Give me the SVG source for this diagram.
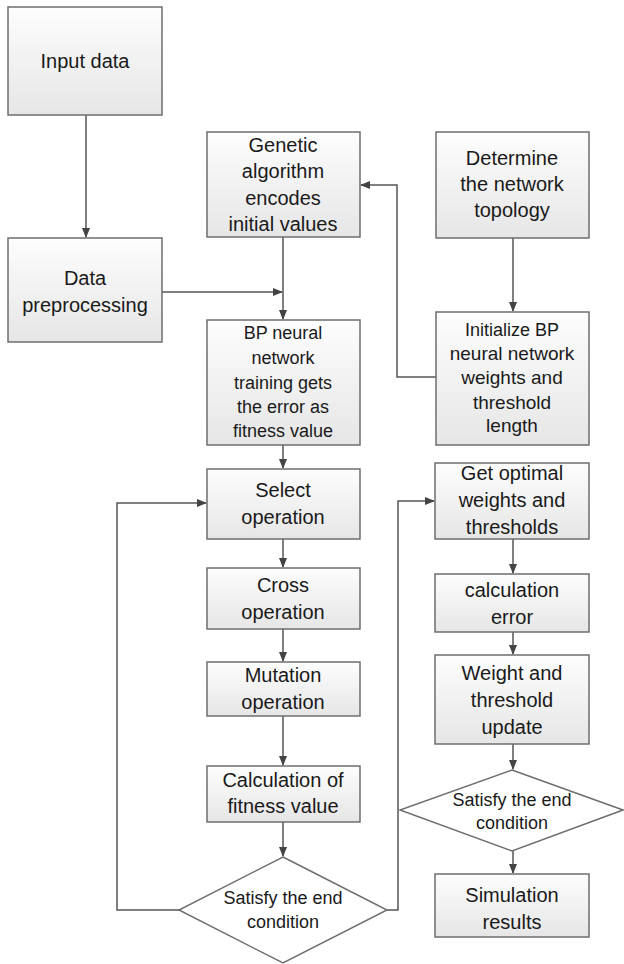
<svg xmlns="http://www.w3.org/2000/svg" width="624" height="964" viewBox="0 0 624 964">
<style>
.box{fill:url(#g);stroke:#6e6e6e;stroke-width:1.5}
.dia{fill:#ffffff;stroke:#6e6e6e;stroke-width:1.5}
.t{font-family:"Liberation Sans",Arial,sans-serif;fill:#1a1a1a;text-anchor:middle;dominant-baseline:central}
.f20{font-size:20px}.f19{font-size:19px}.f18{font-size:18px}
.c{fill:none;stroke:#555;stroke-width:1.5}
</style>
<defs>
<linearGradient id="g" x1="0" y1="0" x2="0" y2="1">
<stop offset="0" stop-color="#fdfdfd"/>
<stop offset="1" stop-color="#e6e6e6"/>
</linearGradient>
<marker id="a" markerWidth="10" markerHeight="8" refX="9" refY="4" orient="auto" markerUnits="userSpaceOnUse">
<path d="M0,0 L10,4 L0,8 z" fill="#444"/>
</marker>
</defs>
<g id="connectors">
<path class="c" d="M86,115 V237" marker-end="url(#a)"/>
<path class="c" d="M162,292 H282" marker-end="url(#a)"/>
<path class="c" d="M283,237 V319" marker-end="url(#a)"/>
<path class="c" d="M513,238 V311" marker-end="url(#a)"/>
<path class="c" d="M436,377 H397 V185 H361" marker-end="url(#a)"/>
<path class="c" d="M283,445 V468" marker-end="url(#a)"/>
<path class="c" d="M283,539 V567" marker-end="url(#a)"/>
<path class="c" d="M283,629 V661" marker-end="url(#a)"/>
<path class="c" d="M283,716 V765" marker-end="url(#a)"/>
<path class="c" d="M283,822 V856" marker-end="url(#a)"/>
<path class="c" d="M179,910 H117 V503 H206" marker-end="url(#a)"/>
<path class="c" d="M387,910 H398 V501 H434" marker-end="url(#a)"/>
<path class="c" d="M513,539 V573" marker-end="url(#a)"/>
<path class="c" d="M513,632 V654" marker-end="url(#a)"/>
<path class="c" d="M513,744 V769" marker-end="url(#a)"/>
<path class="c" d="M513,851 V873" marker-end="url(#a)"/>
</g>
<g id="input">
<rect class="box" x="8" y="7" width="154" height="108"/>
<text class="t f20" x="85" y="61">Input data</text>
</g>
<g id="preprocess">
<rect class="box" x="8" y="238" width="154" height="104"/>
<text class="t f20" x="85" y="278">Data</text>
<text class="t f20" x="85" y="305">preprocessing</text>
</g>
<g id="genetic">
<rect class="box" x="207" y="132" width="153" height="105"/>
<text class="t f20" x="283" y="145">Genetic</text>
<text class="t f20" x="283" y="171">algorithm</text>
<text class="t f20" x="283" y="198">encodes</text>
<text class="t f20" x="283" y="224">initial values</text>
</g>
<g id="determine">
<rect class="box" x="436" y="132" width="153" height="106"/>
<text class="t f20" x="512" y="158">Determine</text>
<text class="t f20" x="512" y="184">the network</text>
<text class="t f20" x="512" y="210">topology</text>
</g>
<g id="bp">
<rect class="box" x="207" y="320" width="153" height="125"/>
<text class="t f18" x="283" y="333">BP neural</text>
<text class="t f18" x="283" y="358">network</text>
<text class="t f18" x="283" y="383">training gets</text>
<text class="t f18" x="283" y="407">the error as</text>
<text class="t f18" x="283" y="431">fitness value</text>
</g>
<g id="initialize">
<rect class="box" x="436" y="312" width="153" height="133"/>
<text class="t f18" x="512" y="330">Initialize BP</text>
<text class="t f19" x="512" y="353">neural network</text>
<text class="t f19" x="512" y="377">weights and</text>
<text class="t f19" x="512" y="402">threshold</text>
<text class="t f19" x="512" y="425">length</text>
</g>
<g id="select">
<rect class="box" x="207" y="469" width="153" height="70"/>
<text class="t f20" x="283" y="490">Select</text>
<text class="t f20" x="283" y="517">operation</text>
</g>
<g id="cross">
<rect class="box" x="207" y="568" width="153" height="61"/>
<text class="t f20" x="283" y="585">Cross</text>
<text class="t f20" x="283" y="612">operation</text>
</g>
<g id="mutation">
<rect class="box" x="207" y="662" width="153" height="54"/>
<text class="t f20" x="283" y="675">Mutation</text>
<text class="t f20" x="283" y="702">operation</text>
</g>
<g id="fitness">
<rect class="box" x="207" y="766" width="153" height="56"/>
<text class="t f20" x="283" y="780">Calculation of</text>
<text class="t f20" x="283" y="806">fitness value</text>
</g>
<g id="end1">
<polygon class="dia" points="283,857 387,910 283,963 179,910"/>
<text class="t f18" x="283" y="898">Satisfy the end</text>
<text class="t f18" x="283" y="922">condition</text>
</g>
<g id="optimal">
<rect class="box" x="435" y="463" width="154" height="76"/>
<text class="t f20" x="512" y="473">Get optimal</text>
<text class="t f20" x="512" y="500">weights and</text>
<text class="t f20" x="512" y="527">thresholds</text>
</g>
<g id="calcerr">
<rect class="box" x="435" y="574" width="154" height="58"/>
<text class="t f20" x="512" y="590">calculation</text>
<text class="t f20" x="512" y="617">error</text>
</g>
<g id="update">
<rect class="box" x="435" y="655" width="154" height="89"/>
<text class="t f20" x="512" y="673">Weight and</text>
<text class="t f20" x="512" y="700">threshold</text>
<text class="t f20" x="512" y="727">update</text>
</g>
<g id="end2">
<polygon class="dia" points="512,770 623,810 512,851 400,810"/>
<text class="t f18" x="512" y="800">Satisfy the end</text>
<text class="t f18" x="512" y="823">condition</text>
</g>
<g id="simulation">
<rect class="box" x="435" y="874" width="154" height="63"/>
<text class="t f20" x="512" y="895">Simulation</text>
<text class="t f20" x="512" y="922">results</text>
</g>
</svg>
